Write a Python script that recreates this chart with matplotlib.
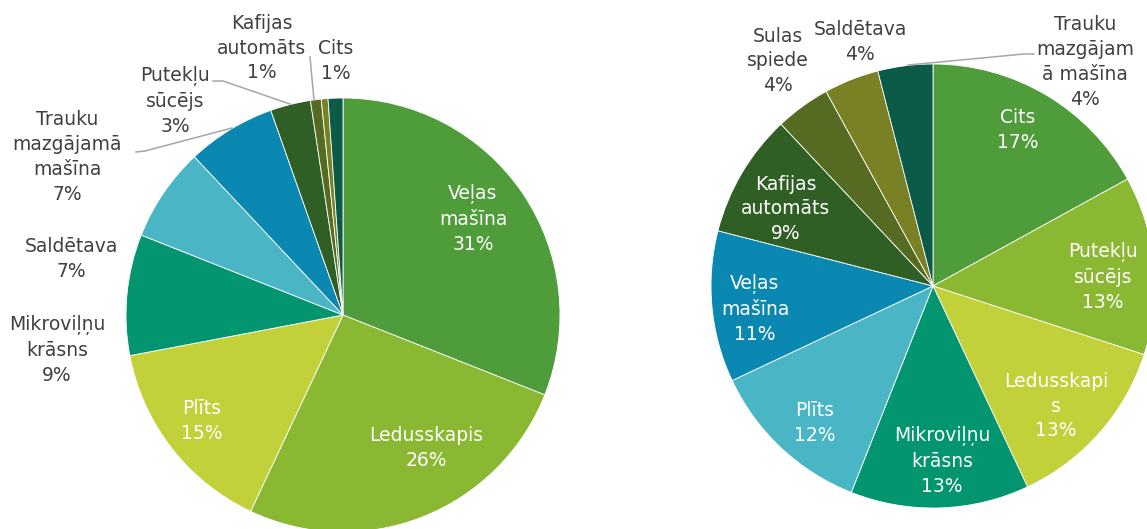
import matplotlib.pyplot as plt

# left pie: share of appliances (sum = 100)
left_values = [31, 26, 15, 9, 7, 6.6, 3, 0.8, 0.5, 1.1]
left_labels = ["Veļas\nmašīna\n31%", "Ledusskapis\n26%", "Plīts\n15%",
               "Mikroviļņu\nkrāsns\n9%", "Saldētava\n7%",
               "Trauku\nmazgājamā\nmašīna\n7%", "Putekļu\nsūcējs\n3%",
               "Kafijas\nautomāts\n1%", "", "Cits\n1%"]
left_colors = ["#4e9d3a", "#8ab833", "#c2d03a", "#03956f", "#4ab5c4",
               "#0b88b1", "#2f5f24", "#556b22", "#7a8024", "#0b5b48"]
left_inside = [True, True, True, False, False, False, False, False, False, False]

# right pie
right_values = [17, 13, 13, 13, 12, 11, 9, 4, 4, 4]
right_labels = ["Cits\n17%", "Putekļu\nsūcējs\n13%", "Ledusskapi\ns\n13%",
                "Mikroviļņu\nkrāsns\n13%", "Plīts\n12%", "Veļas\nmašīna\n11%",
                "Kafijas\nautomāts\n9%", "Sulas\nspiede\n4%", "Saldētava\n4%",
                "Trauku\nmazgājam\nā mašīna\n4%"]
right_colors = ["#4e9d3a", "#8ab833", "#c2d03a", "#03956f", "#4ab5c4",
                "#0b88b1", "#2f5f24", "#556b22", "#7a8024", "#0b5b48"]
right_inside = [True, True, True, True, True, True, True, False, False, False]

W, H = 1147, 529

# label centres (pixel coords, y from top)
left_pos = [(473, 219), (426, 448), (202, 421), (57, 350), (71, 259),
            (67, 157), (175, 101), (262, 48), None, (336, 61)]
right_pos = [(1018, 130), (1103, 277), (1056, 406), (942, 461), (815, 423),
             (755, 309), (786, 209), (778, 61), (860, 42), (1085, 62)]

# leader lines (pixel coords, y from top)
leaders = [
    [(136, 152), (145, 151), (232, 128)],
    [(213, 81), (223, 81), (290, 104)],
    [(310, 57), (314, 100)],
    [(908, 65), (1024, 54), (1034, 54)],
]

fig = plt.figure(figsize=(W / 100, H / 100), dpi=100)
ax = fig.add_axes([0, 0, 1, 1])

wp = dict(edgecolor="white", linewidth=0.6)
ax.pie(left_values, colors=left_colors, startangle=90, counterclock=False,
       center=(343, H - 315), radius=217, wedgeprops=wp)
ax.pie(right_values, colors=right_colors, startangle=90, counterclock=False,
       center=(933, H - 286), radius=222, wedgeprops=wp)

for labels, pos, inside in [(left_labels, left_pos, left_inside),
                            (right_labels, right_pos, right_inside)]:
    for lab, p, ins in zip(labels, pos, inside):
        if p is None or not lab:
            continue
        ax.text(p[0], H - p[1], lab, ha="center", va="center",
                multialignment="center", fontsize=13.5, linespacing=1.38,
                color="white" if ins else "#404040", family="DejaVu Sans")

for line in leaders:
    xs = [q[0] for q in line]
    ys = [H - q[1] for q in line]
    ax.plot(xs, ys, color="#a6a6a6", linewidth=1.1)

ax.set_xlim(0, W)
ax.set_ylim(0, H)
ax.set_aspect("equal")
ax.axis("off")

fig.savefig("out.png", dpi=100, facecolor="white")
